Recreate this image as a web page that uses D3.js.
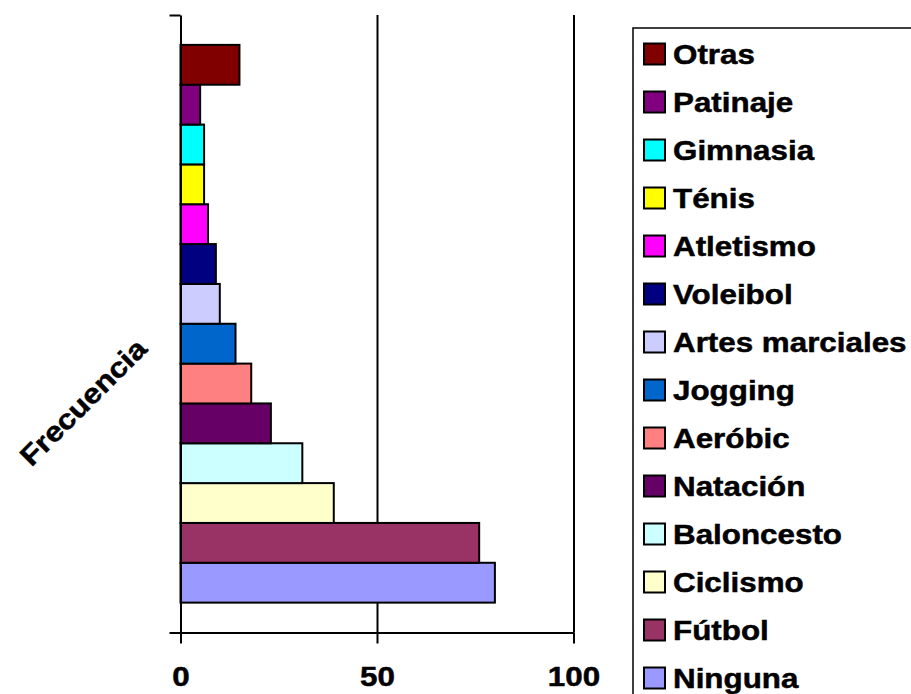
<!DOCTYPE html>
<html>
<head>
<meta charset="utf-8">
<script src="https://cdn.jsdelivr.net/npm/d3@7"></script>
<style>
  body { margin: 0; background: #fff; }
  text { font-family: "Liberation Sans", Arial, sans-serif; font-weight: 700; fill: #000;
         stroke: #000; stroke-width: 0.5px; }
</style>
</head>
<body>
<div id="chart"></div>
<script>
// series, in chart order (bottom bar first)
var categories = ["Ninguna", "Fútbol", "Ciclismo", "Baloncesto", "Natación", "Aeróbic", "Jogging",
                  "Artes marciales", "Voleibol", "Atletismo", "Ténis", "Gimnasia", "Patinaje", "Otras"];
var values = [80, 76, 39, 31, 23, 18, 14, 10, 9, 7, 6, 6, 5, 15];
var colors = ["#9999FF", "#993366", "#FFFFCC", "#CCFFFF", "#660066", "#FF8080", "#0066CC",
              "#CCCCFF", "#000080", "#FF00FF", "#FFFF00", "#00FFFF", "#800080", "#800000"];
var xTicks = [0, 50, 100];
var axisTitle = "Frecuencia";

var width = 911, height = 694;

// plot area
var plot = { left: 180.5, right: 573.5, top: 15, bottom: 632.5 };

// text in the original is a bit wider than Liberation Sans
var stretch = 1.12;

var svg = d3.select("#chart")
            .append("svg")
            .attr("width", width)
            .attr("height", height);

var xScale = d3.scaleLinear()
               .domain([0, 100])
               .range([plot.left, plot.right]);

var yScale = d3.scaleBand()
               .domain(categories)
               .range([plot.bottom, plot.top])
               .paddingInner(0)
               .paddingOuter(0.75);

// vertical gridlines
svg.append("g")
   .attr("transform", "translate(0," + plot.top + ")")
   .call(d3.axisBottom(xScale)
           .tickValues(xTicks.slice(1))
           .tickSize(plot.bottom - plot.top)
           .tickFormat(""))
   .call(function(g) { g.select(".domain").remove(); })
   .selectAll("line")
   .attr("stroke", "#000")
   .attr("stroke-width", 2);

// bars
svg.selectAll("rect.bar")
   .data(categories)
   .enter()
   .append("rect")
   .attr("class", "bar")
   .attr("x", xScale(0))
   .attr("y", function(d) { return yScale(d); })
   .attr("width", function(d, i) { return xScale(values[i]) - xScale(0); })
   .attr("height", yScale.bandwidth())
   .attr("fill", function(d, i) { return colors[i]; })
   .attr("stroke", "#000")
   .attr("stroke-width", 2);

// value axis at the bottom
var xAxis = svg.append("g")
   .attr("transform", "translate(0," + plot.bottom + ")")
   .call(d3.axisBottom(xScale)
           .tickValues(xTicks)
           .tickSize(11)
           .tickSizeOuter(0)
           .tickPadding(43));

xAxis.select(".domain").attr("stroke", "#000").attr("stroke-width", 2);
xAxis.selectAll("line").attr("stroke", "#000").attr("stroke-width", 2);
xAxis.selectAll("text")
     .attr("fill", "#000")
     .attr("font-family", null)
     .attr("font-size", null)
     .style("font-size", "28px")
     .attr("dy", "0")
     .attr("transform", function() {
       var y = +d3.select(this).attr("y");
       return "translate(0," + y + ") scale(" + stretch + ",1) translate(0," + (-y) + ")";
     });

// category axis, ticks only at its two ends
var yEnds = d3.scaleLinear().domain([0, 1]).range([plot.bottom, plot.top]);
var yAxis = svg.append("g")
   .attr("transform", "translate(" + plot.left + ",0)")
   .call(d3.axisLeft(yEnds)
           .tickValues([0, 1])
           .tickSize(11)
           .tickSizeOuter(0)
           .tickFormat(""));

yAxis.select(".domain").attr("stroke", "#000").attr("stroke-width", 2);
yAxis.selectAll("line").attr("stroke", "#000").attr("stroke-width", 2);

// rotated axis title
svg.append("text")
   .attr("transform", "translate(83,402) rotate(-45) scale(" + stretch + ",1)")
   .attr("text-anchor", "middle")
   .attr("dominant-baseline", "central")
   .style("font-size", "28px")
   .text(axisTitle);

// legend (top item is the last series)
var legend = svg.append("g");

legend.append("rect")
      .attr("x", 633)
      .attr("y", 28)
      .attr("width", 320)
      .attr("height", 700)
      .attr("fill", "none")
      .attr("stroke", "#000")
      .attr("stroke-width", 1.5);

var legendOrder = d3.range(categories.length).reverse();
var rowY = d3.scalePoint()
             .domain(legendOrder)
             .range([54, 678]);

var items = legend.selectAll("g.item")
                  .data(legendOrder)
                  .enter()
                  .append("g")
                  .attr("class", "item")
                  .attr("transform", function(i) { return "translate(0," + rowY(i) + ")"; });

items.append("rect")
     .attr("x", 644)
     .attr("y", -10.5)
     .attr("width", 21)
     .attr("height", 21)
     .attr("fill", function(i) { return colors[i]; })
     .attr("stroke", "#000")
     .attr("stroke-width", 2);

items.append("text")
     .attr("transform", "translate(673,10) scale(" + stretch + ",1)")
     .style("font-size", "28px")
     .text(function(i) { return categories[i]; });
</script>
</body>
</html>
